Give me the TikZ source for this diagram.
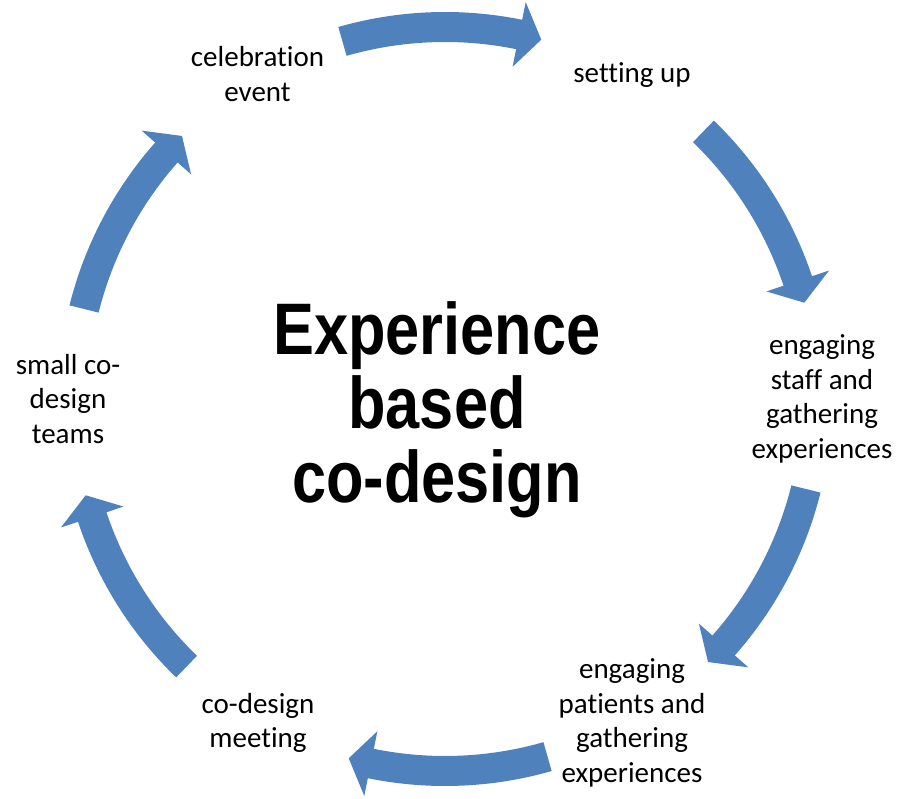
\documentclass[tikz,border=0pt]{standalone}
\usepackage{fontspec}
\setmainfont{Carlito}[Ligatures=NoCommon]
\newfontfamily\titlefont{Liberation Sans}
\usetikzlibrary{shapes, arrows}
\definecolor{flowblue}{RGB}{79,129,189}

\begin{document}
\begin{tikzpicture}[x=1pt, y=1pt,
        stage/.style={align=center, font=\fontsize{29}{34.5}\selectfont},
        flowarrow/.pic={\fill[flowblue] (31:387pt) arc[start angle=31, end angle=3.5, radius=387pt]
            -- (3.5:405pt) -- (0:372pt) -- (3.5:339pt) -- (3.5:357pt)
            arc[start angle=3.5, end angle=31, radius=357pt] -- cycle;}]
        \useasboundingbox (-445,-400) rectangle (456,399);
        \coordinate (hub) at (0,0);
        \node (title) [align=center, xscale=0.84, font=\titlefont\bfseries\fontsize{73}{74}\selectfont] at (-8,-11) {Experience\\based\\co-design};

        \node (celebration) [stage] at (120:375pt) {celebration\\event};
        \node (setting) [stage] at (60:374pt) {setting up};
        \node (staff) [stage] at (0:377pt) {engaging\\staff and\\gathering\\experiences};
        \node (patients) [stage] at (-60:374pt) {engaging\\patients and\\gathering\\experiences};
        \node (meeting) [stage] at (-120:374pt) {co-design\\meeting};
        \node (teams) [stage] at (180:377pt) {small co-\\design\\teams};

        % arrows between the stages, clockwise
        \pic [rotate=75] at (hub) {flowarrow};
        \pic [rotate=15] at (hub) {flowarrow};
        \pic [rotate=-45] at (hub) {flowarrow};
        \pic [rotate=-105] at (hub) {flowarrow};
        \pic [rotate=-165] at (hub) {flowarrow};
        \pic [rotate=135] at (hub) {flowarrow};
    \end{tikzpicture}
\end{document}
